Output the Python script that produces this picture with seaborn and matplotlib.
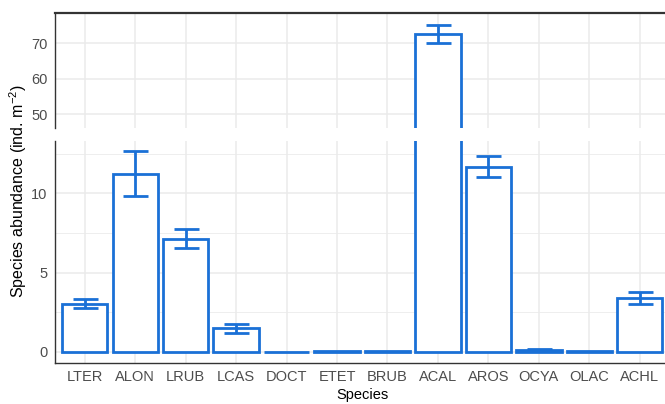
import matplotlib
matplotlib.use("Agg")
import matplotlib.pyplot as plt
from matplotlib.ticker import FixedLocator
import seaborn as sns
import pandas as pd

species = ["LTER", "ALON", "LRUB", "LCAS", "DOCT", "ETET", "BRUB",
           "ACAL", "AROS", "OCYA", "OLAC", "ACHL"]
abundance = [3.05, 11.25, 7.15, 1.50, 0.02, 0.03, 0.03,
             72.6, 11.68, 0.12, 0.07, 3.37]
std_err = [0.29, 1.45, 0.62, 0.29, 0.0, 0.0, 0.0,
           2.5, 0.68, 0.05, 0.0, 0.38]

df = pd.DataFrame({"Species": species, "abundance": abundance, "se": std_err})

blue = "#1A70D6"
grid_col = "#EBEBEB"
axis_col = "#333333"
tick_txt = "#4D4D4D"

sns.set_theme(style="white")
plt.rcParams["font.family"] = ["Liberation Sans", "DejaVu Sans"]
plt.rcParams["mathtext.fontset"] = "custom"
plt.rcParams["mathtext.rm"] = "Liberation Sans"
plt.rcParams["mathtext.it"] = "Liberation Sans:italic"
plt.rcParams["mathtext.default"] = "regular"

fig = plt.figure(figsize=(6.65, 4.04), dpi=100)
left = 54.5 / 665
width = (670 - 54.5) / 665
ax_top = fig.add_axes([left, (404 - 128) / 404, width, 115 / 404])
ax_bot = fig.add_axes([left, (404 - 363) / 404, width, 222 / 404])

for ax in (ax_top, ax_bot):
    sns.barplot(data=df, x="Species", y="abundance", order=species,
                errorbar=None, width=0.9, color="white",
                edgecolor=blue, linewidth=2.0, ax=ax, zorder=2)
    idx = [species.index(s) for s in df["Species"]]
    mask = df["se"] > 0
    ax.errorbar([i for i, m in zip(idx, mask) if m],
                df.loc[mask, "abundance"], yerr=df.loc[mask, "se"],
                fmt="none", ecolor=blue, elinewidth=2.0, capsize=9,
                capthick=2.0, zorder=3)
    ax.set_xlim(-0.6, len(species) - 0.4)
    ax.set_facecolor("white")
    ax.set_axisbelow(True)
    ax.grid(True, which="major", color=grid_col, linewidth=1.1, zorder=0)
    ax.tick_params(axis="both", which="major", direction="out", length=3,
                   width=0.8, color=axis_col, labelcolor=tick_txt,
                   labelsize=10.5, pad=2)
    ax.set_xlabel("")
    ax.set_ylabel("")
    for side in ("left", "right", "top", "bottom"):
        ax.spines[side].set_visible(False)
    ax.spines["left"].set_visible(True)
    ax.spines["left"].set_color(axis_col)
    ax.spines["left"].set_linewidth(1.0)

# upper panel: the large ACAL value
ax_top.set_ylim(46.1, 78.6)
ax_top.set_yticks([50, 60, 70])
ax_top.tick_params(axis="x", which="both", bottom=False, labelbottom=False)
ax_top.spines["top"].set_visible(True)
ax_top.spines["top"].set_color(axis_col)
ax_top.spines["top"].set_linewidth(1.6)

# lower panel: the rest of the species
ax_bot.set_ylim(-0.7, 13.3)
ax_bot.set_yticks([0, 5, 10])
ax_bot.yaxis.set_minor_locator(FixedLocator([2.5, 7.5, 12.5]))
ax_bot.grid(True, which="minor", axis="y", color=grid_col, linewidth=0.6, zorder=0)
ax_bot.tick_params(axis="y", which="minor", length=0)
ax_bot.spines["bottom"].set_visible(True)
ax_bot.spines["bottom"].set_color(axis_col)
ax_bot.spines["bottom"].set_linewidth(1.0)
ax_bot.set_xlabel("Species", fontsize=10.5, color="black", labelpad=3)

fig.text(18 / 665, 1 - 191 / 404, "Species abundance (ind. m$^{-2}$)",
         rotation=90, ha="center", va="center", fontsize=11.5, color="black")

fig.savefig("out.png", dpi=100)
